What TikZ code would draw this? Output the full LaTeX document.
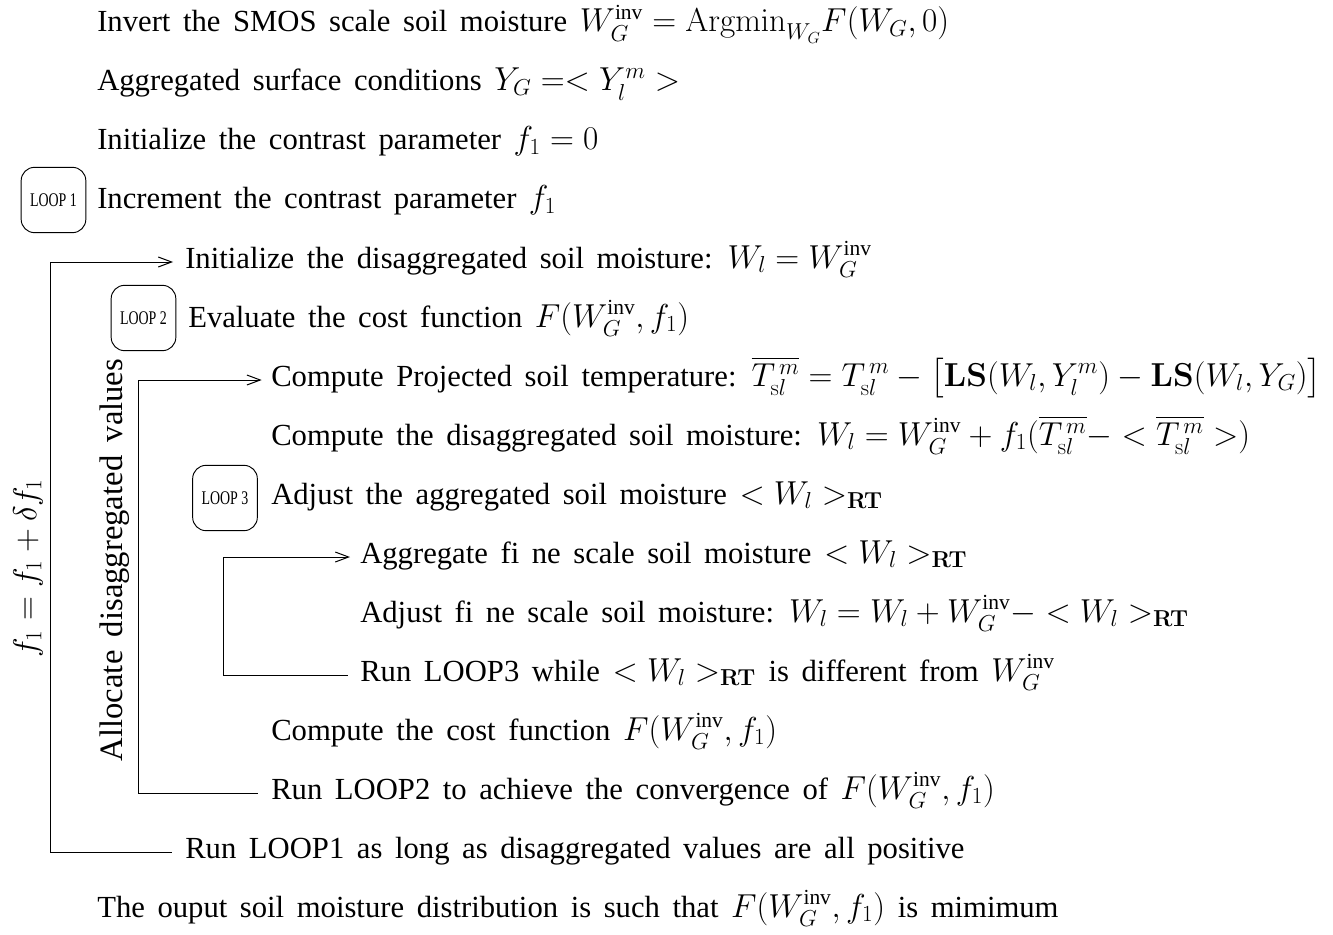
\documentclass[tikz,border=0pt]{standalone}
\usepackage{amsmath}
\usepackage[no-math]{fontspec}
\setmainfont{Liberation Serif}
\usetikzlibrary{arrows.meta}
\newcommand{\wsp}{\spaceskip=0.41em plus 0pt minus 0pt\relax}
\begin{document}
\begin{tikzpicture}[x=0.75pt,y=-0.75pt,
  txt/.style={anchor=base west,inner sep=0pt,font=\fontsize{23}{28}\selectfont\wsp},
  rot/.style={inner sep=0pt,rotate=90,font=\fontsize{24.5}{28}\selectfont\wsp},
  loopbox/.style={draw,rounded corners=10pt,minimum width=48.5pt,minimum height=49pt,inner sep=0pt,line width=0.7pt,font=\fontsize{14.5}{15}\selectfont},
  conn/.style={line width=0.75pt},
  arr/.style={conn,-{Straight Barb[length=10pt,width=7.5pt]}}]
\useasboundingbox (0,0) rectangle (1333,934);
\def\inv{\text{inv}}
\def\Tsl{T_{\mathrm{s}l}^{\,m}}
\node[txt] (l1) at (97,32) {Invert the SMOS scale soil moisture $W_G^{\inv} = \mathrm{Argmin}_{W_G} F(W_G,0)$};
\node[txt] (l2) at (97,91) {Aggregated surface conditions $Y_G =< Y_l^m >$};
\node[txt] (l3) at (97,150) {Initialize the contrast parameter $f_1 = 0$};
\node[txt] (l4) at (97,209) {Increment the contrast parameter $f_1$};
\node[txt] (l5) at (185,268) {Initialize the disaggregated soil moisture: $W_l = W_G^{\inv}$};
\node[txt] (l6) at (188,327) {Evaluate the cost function $F(W_G^{\inv}, f_1)$};
\node[txt] (l7) at (271,386) {Compute Projected soil temperature: $\overline{\Tsl} = \Tsl - \big[\mathbf{LS}(W_l, Y_l^m) - \mathbf{LS}(W_l, Y_G)\big]$};
\node[txt] (l8) at (271,445) {Compute the disaggregated soil moisture: $W_l = W_G^{\inv} + f_1(\overline{\Tsl}-<\overline{\Tsl}>)$};
\node[txt] (l9) at (271,504) {Adjust the aggregated soil moisture $<W_l>_{\mathbf{RT}}$};
\node[txt] (l10) at (360,563) {Aggregate fi ne scale soil moisture $<W_l>_{\mathbf{RT}}$};
\node[txt] (l11) at (360,622) {Adjust fi ne scale soil moisture: $W_l = W_l + W_G^{\inv}-<W_l>_{\mathbf{RT}}$};
\node[txt] (l12) at (360,681) {Run LOOP3 while $<W_l>_{\mathbf{RT}}$ is different from $W_G^{\inv}$};
\node[txt] (l13) at (271,740) {Compute the cost function $F(W_G^{\inv}, f_1)$};
\node[txt] (l14) at (271,799) {Run LOOP2 to achieve the convergence of $F(W_G^{\inv}, f_1)$};
\node[txt] (l15) at (185,858) {Run LOOP1 as long as disaggregated values are all positive};
\node[txt] (l16) at (97,917) {The ouput soil moisture distribution is such that $F(W_G^{\inv}, f_1)$ is mimimum};
% loop boxes
\node[loopbox] (b1) at (53.5,200) {\scalebox{0.72}[1]{LOOP 1}};
\node[loopbox] (b2) at (143.5,318) {\scalebox{0.72}[1]{LOOP 2}};
\node[loopbox] (b3) at (225,498) {\scalebox{0.72}[1]{LOOP 3}};
% rotated labels
\node[rot] (r1) at (28,568) {$f_1 = f_1 + \delta f_1$};
\node[rot] (r2) at (115,560) {Allocate disaggregated values};
% brackets
\coordinate (c1a) at (50,262);
\coordinate (c1b) at (50,852);
\coordinate (c2a) at (138,380);
\coordinate (c2b) at (138,793);
\coordinate (c3a) at (223,557);
\coordinate (c3b) at (223,675);
\draw[arr] (c1b) -- (c1a) -- ([xshift=-9pt]l5.west |- c1a);
\draw[conn] (c1b) -- ([xshift=-10pt]l15.west |- c1b);
\draw[arr] (c2b) -- (c2a) -- ([xshift=-7pt]l7.west |- c2a);
\draw[conn] (c2b) -- ([xshift=-10pt]l14.west |- c2b);
\draw[arr] (c3b) -- (c3a) -- ([xshift=-7.5pt]l10.west |- c3a);
\draw[conn] (c3b) -- ([xshift=-9pt]l12.west |- c3b);
\end{tikzpicture}
\end{document}
